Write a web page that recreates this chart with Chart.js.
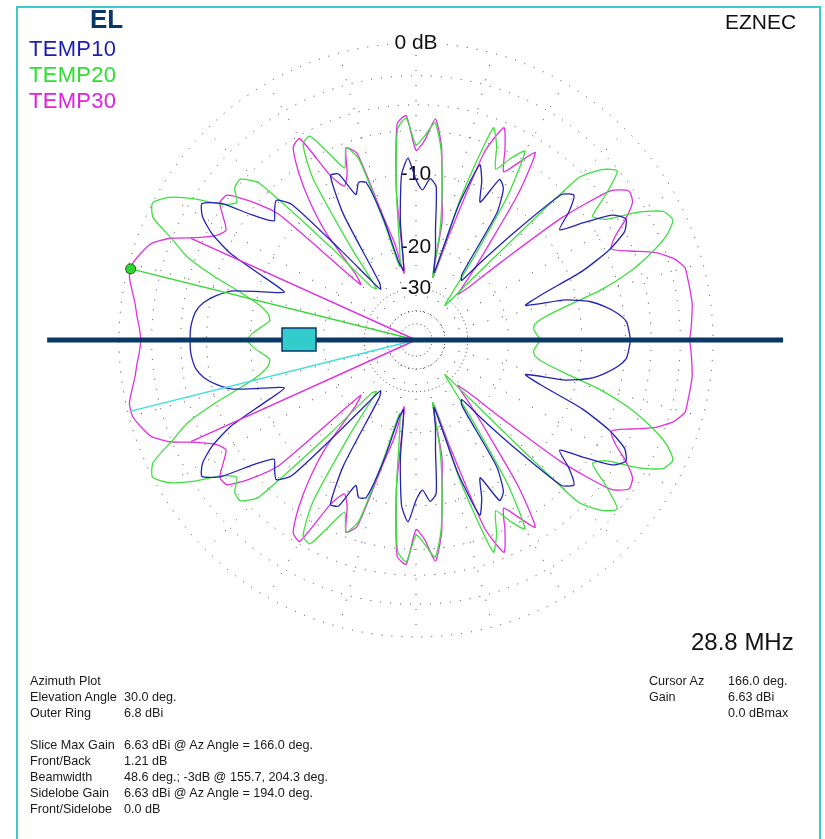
<!DOCTYPE html>
<html lang="en">
<head>
<meta charset="utf-8">
<title>EZNEC azimuth plot - TEMP10 / TEMP20 / TEMP30</title>
<script src="https://cdn.jsdelivr.net/npm/chart.js@4.4.1/dist/chart.umd.min.js"></script>
<style>
  html, body { margin: 0; padding: 0; background: #fff; }
  body { position: relative; width: 825px; height: 839px; overflow: hidden;
         font-family: "Liberation Sans", Arial, sans-serif; }
  #frame { position: absolute; left: 16px; top: 6px; width: 805px; height: 900px;
           box-sizing: border-box; border: 2px solid #3ccaca; }
  #plot { position: absolute; left: 0; top: 0; }
  .txt { position: absolute; white-space: pre; line-height: 1; }
  .info { position: absolute; white-space: pre; font-size: 12.6px; line-height: 16px; color: #1a1a1a; }
</style>
</head>
<body>
<div id="frame"></div>
<canvas id="plot" width="825" height="839"></canvas>

<div class="txt" style="left:90px; top:6px; font-size:26px; font-weight:bold; color:#083868;">EL</div>
<div class="txt" style="left:29px; top:38px; font-size:22px; letter-spacing:0.3px; color:#1c1cb4;">TEMP10</div>
<div class="txt" style="left:29px; top:64px; font-size:22px; letter-spacing:0.3px; color:#2ee02e;">TEMP20</div>
<div class="txt" style="left:29px; top:90px; font-size:22px; letter-spacing:0.3px; color:#e020e0;">TEMP30</div>
<div class="txt" style="left:725px; top:11px; font-size:21px; color:#111;">EZNEC</div>
<div class="txt" style="left:691px; top:630px; font-size:24px; color:#111;">28.8 MHz</div>

<div class="info" style="left:30px; top:673px;">Azimuth Plot
Elevation Angle
Outer Ring</div>
<div class="info" style="left:124px; top:673px;">
30.0 deg.
6.8 dBi</div>
<div class="info" style="left:30px; top:737px;">Slice Max Gain
Front/Back
Beamwidth
Sidelobe Gain
Front/Sidelobe</div>
<div class="info" style="left:124px; top:737px;">6.63 dBi @ Az Angle = 166.0 deg.
1.21 dB
48.6 deg.; -3dB @ 155.7, 204.3 deg.
6.63 dBi @ Az Angle = 194.0 deg.
0.0 dB</div>
<div class="info" style="left:649px; top:673px;">Cursor Az
Gain</div>
<div class="info" style="left:728px; top:673px;">166.0 deg.
6.63 dBi
0.0 dBmax</div>

<script>
// Pas angulaire des données (degrés), azimut 0..180 (le diagramme est symétrique)
const azStep = 2.5;

// Gain relatif à l'anneau extérieur (dB), azimut 0, 2.5, ... 180 deg
const temp10Db = [
  -5.6, -5.7, -5.85, -6.5, -7.5, -8.8, -11.2, -16.3, -13.5, -8.6,
  -5.7, -4.0, -3.5, -4.2, -6.4, -8.5, -6.8, -5.6, -6.3, -12.0,
  -18.0, -23.6, -22.5, -11.7, -9.1, -8.5, -11.5, -9.4, -8.0, -12.9,
  -24.8, -20.5, -16.7, -11.2, -10.4, -11.7, -10.6, -8.4, -10.0, -15.6,
  -24.6, -22.5, -14.9, -10.1, -9.8, -10.9, -8.3, -8.1, -12.3, -25.3,
  -26.9, -22.5, -15.8, -8.2, -7.0, -7.5, -8.1, -6.4, -3.8, -2.7,
  -3.2, -4.4, -6.4, -10.1, -12.9, -10.6, -7.7, -6.4, -5.5, -5.0,
  -4.8, -4.7, -4.7
];
const temp20Db = [
  -15.0, -15.4, -15.8, -15.6, -14.2, -11.5, -7.7, -5.0, -3.1, -1.6,
  -0.8, -1.1, -2.6, -4.8, -5.5, -3.7, -2.1, -2.8, -4.5, -22.5,
  -32.4, -27.5, -18.7, -9.6, -5.3, -6.4, -7.8, -5.9, -4.7, -11.7,
  -26.1, -17.1, -11.7, -7.5, -5.3, -6.4, -7.2, -5.0, -5.8, -11.7,
  -19.6, -23.6, -15.8, -7.7, -6.4, -8.0, -6.3, -4.4, -4.7, -7.5,
  -16.3, -26.1, -24.8, -14.9, -5.0, -3.8, -3.9, -4.7, -3.9, -2.1,
  -0.7, 0.0, -0.4, -2.0, -3.4, -5.8, -8.6, -10.6, -11.7, -12.0,
  -11.2, -10.3, -9.7
];
const temp30Db = [
  -1.4, -1.3, -1.2, -1.1, -1.1, -1.1, -1.1, -1.6, -2.6, -4.2,
  -5.5, -4.8, -3.5, -2.5, -2.3, -3.3, -7.7, -16.3, -23.6, -26.9,
  -21.5, -15.8, -8.8, -5.0, -6.4, -7.7, -5.9, -4.4, -6.8, -17.1,
  -26.1, -15.6, -11.7, -7.2, -5.0, -6.8, -7.7, -4.8, -5.4, -11.7,
  -25.3, -18.7, -14.2, -7.2, -6.4, -8.6, -9.6, -8.1, -4.2, -4.5,
  -6.4, -9.1, -12.9, -20.5, -22.9, -8.1, -5.5, -3.8, -3.7, -4.5,
  -5.2, -4.7, -3.5, -1.9, -0.9, -0.5, -0.2, -0.2, -0.5, -0.8,
  -1.0, -1.2, -1.3
];

// Anneaux de la grille (dB) et leurs étiquettes
const ringDb = [-50, -40, -30, -20, -10, -6, -4, -2, 0];
const ringText = ['', '', '-30', '-20', '-10', '', '', '', '0 dB'];

// Curseur et faisceau
const outerRingDbi = 6.8;
const sliceMaxDbi = 6.63;
const cursorAz = 166.0;
const sidelobeAz = 194.0;
const beamEdgesAz = [155.7, 204.3];

// Echelle logarithmique ARRL : 0.89 par pas de 2 dB
function arrl(db) {
  return Math.pow(0.89, -db / 2);
}

// Radar : index 0 en haut, sens horaire -> azimut = 90 - i*pas
const nPoints = Math.round(360 / azStep);
const radarAz = [];
for (let i = 0; i < nPoints; i++) {
  radarAz.push(((90 - i * azStep) % 360 + 360) % 360);
}

function toRadar(half) {
  return radarAz.map(az => {
    const a = az > 180 ? 360 - az : az;
    return arrl(half[Math.round(a / azStep)]);
  });
}

function azIndex(az) {
  return (90 - az) / azStep;
}

// Rayons en pointillés tous les 15 deg
const spokes = {
  id: 'spokes',
  beforeDatasetsDraw(chart) {
    const s = chart.scales.r;
    const ctx = chart.ctx;
    const r0 = s.getDistanceFromCenterForValue(arrl(-40));
    const r1 = s.drawingArea;
    ctx.save();
    ctx.strokeStyle = '#3a3a3a';
    ctx.lineWidth = 1;
    ctx.setLineDash([1, 14]);
    for (let az = 0; az < 360; az += 15) {
      const p0 = s.getPointPosition(azIndex(az), r0);
      const p1 = s.getPointPosition(azIndex(az), r1);
      ctx.beginPath();
      ctx.moveTo(p0.x, p0.y);
      ctx.lineTo(p1.x, p1.y);
      ctx.stroke();
    }
    ctx.restore();
  }
};

// Curseur, largeur de faisceau, barre horizontale
const overlay = {
  id: 'overlay',
  afterDatasetsDraw(chart) {
    const s = chart.scales.r;
    const ctx = chart.ctx;
    const cx = s.xCenter, cy = s.yCenter, R = s.drawingArea;
    const peak = sliceMaxDbi - outerRingDbi;

    function ray(az, db, color) {
      const p = s.getPointPosition(azIndex(az), s.getDistanceFromCenterForValue(arrl(db)));
      ctx.strokeStyle = color;
      ctx.beginPath();
      ctx.moveTo(cx, cy);
      ctx.lineTo(p.x, p.y);
      ctx.stroke();
      return p;
    }

    ctx.save();
    ctx.lineWidth = 1.5;
    beamEdgesAz.forEach(az => ray(az, peak - 3, '#dd33dd'));
    ray(sidelobeAz, peak, '#40dede');
    const cur = ray(cursorAz, peak, '#3ad63a');

    // barre
    ctx.strokeStyle = '#083868';
    ctx.lineWidth = 5;
    ctx.beginPath();
    ctx.moveTo(cx - R * 1.242, cy);
    ctx.lineTo(cx + R * 1.236, cy);
    ctx.stroke();

    // rectangle
    ctx.fillStyle = '#33cccc';
    ctx.strokeStyle = '#083868';
    ctx.lineWidth = 1.5;
    ctx.fillRect(cx - 134, cy - 12, 34, 23);
    ctx.strokeRect(cx - 134, cy - 12, 34, 23);

    // point du curseur
    ctx.beginPath();
    ctx.arc(cur.x, cur.y, 5, 0, Math.PI * 2);
    ctx.fillStyle = '#2fd62f';
    ctx.fill();
    ctx.strokeStyle = '#1d5e1d';
    ctx.lineWidth = 1;
    ctx.stroke();
    ctx.restore();
  }
};

const plot = new Chart(document.getElementById('plot'), {
  type: 'radar',
  data: {
    labels: radarAz.map(a => a.toFixed(1)),
    datasets: [
      { label: 'TEMP10', data: toRadar(temp10Db), borderColor: '#2323b4' },
      { label: 'TEMP20', data: toRadar(temp20Db), borderColor: '#3ee03e' },
      { label: 'TEMP30', data: toRadar(temp30Db), borderColor: '#e030e0' }
    ]
  },
  options: {
    responsive: false,
    animation: false,
    devicePixelRatio: 1,
    layout: { padding: { left: 108, top: 32, right: 100, bottom: 190 } },
    elements: {
      line: { borderWidth: 1.3, tension: 0.2, fill: false },
      point: { radius: 0, hoverRadius: 0 }
    },
    plugins: {
      legend: { display: false },
      tooltip: { enabled: false }
    },
    scales: {
      r: {
        min: 0,
        max: 1,
        startAngle: 0,
        pointLabels: { display: false },
        angleLines: { display: false },
        grid: { circular: true, color: '#3a3a3a', lineWidth: 1 },
        // anneaux intérieurs plus serrés que les extérieurs
        border: { dash: (c) => (c.index <= 3 ? [1, 3] : [1, 9]) },
        afterBuildTicks: (scale) => {
          scale.ticks = [0].concat(ringDb.map(arrl)).map(v => ({ value: v }));
        },
        ticks: {
          font: { family: 'Liberation Sans', size: 21 },
          color: '#111',
          backdropColor: '#fff',
          backdropPadding: 1,
          showLabelBackdrop: (c) => !!(c.tick && c.tick.label),
          callback: (value, index) => (index > 0 ? ringText[index - 1] : '')
        }
      }
    }
  },
  plugins: [spokes, overlay]
});
</script>
</body>
</html>
